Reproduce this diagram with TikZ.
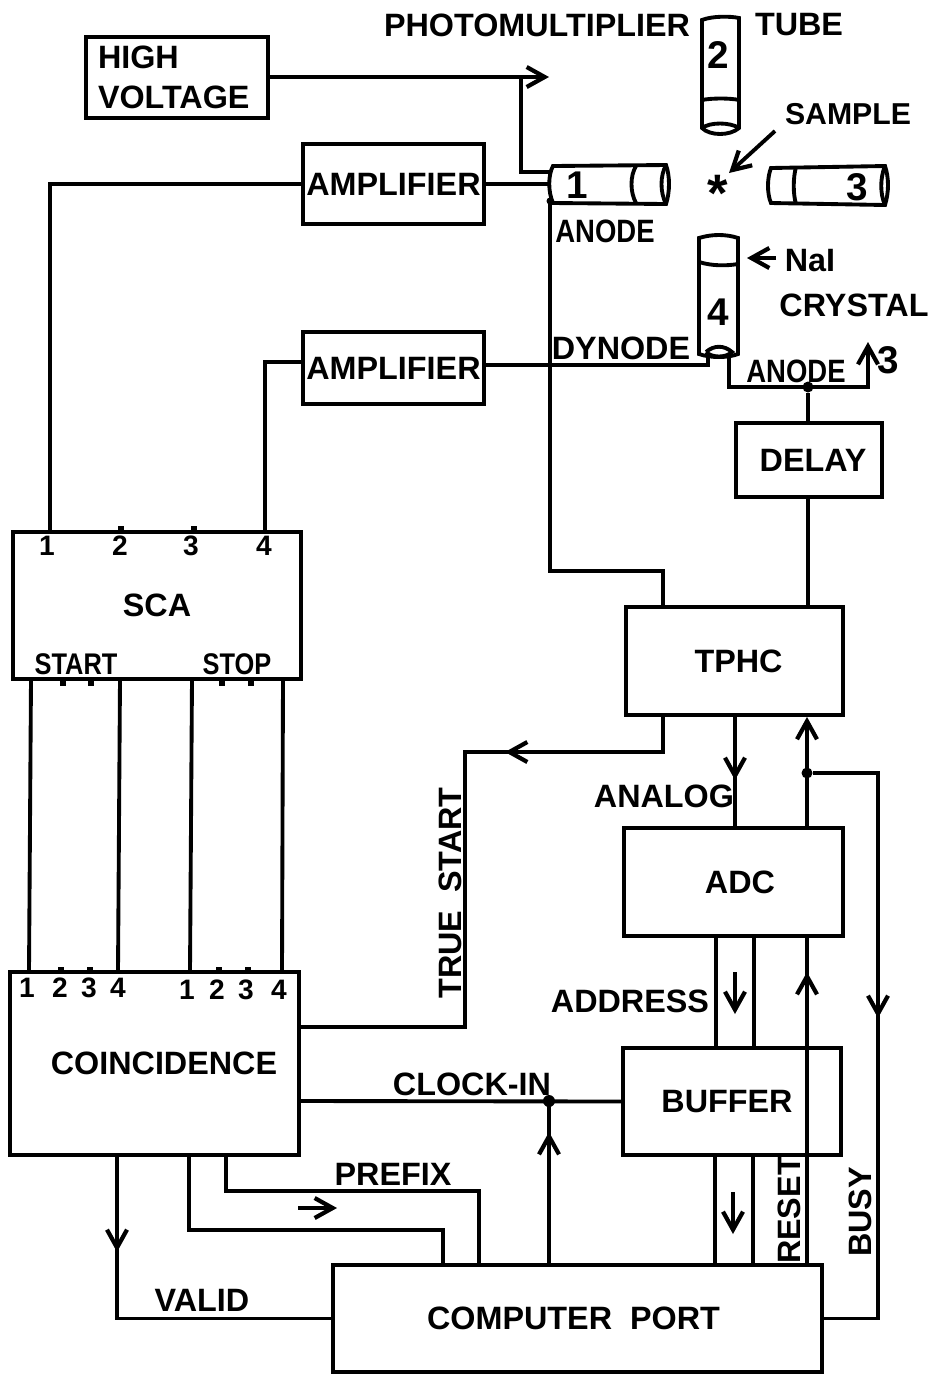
\documentclass[tikz,border=0pt]{standalone}
\usepackage{fontspec}
\usetikzlibrary{arrows.meta,calc,positioning}
\setmainfont{Liberation Sans}
\newfontfamily\narrowfont[BoldFeatures={FakeStretch=0.85}]{Liberation Sans}
\tikzset{
    cadtip/.tip={Straight Barb[length=0.36cm,width=0.4cm,line width=2.4pt]},
    wire/.style={line width=2.2pt},
    blockbox/.style={draw, line width=2.2pt, inner sep=0pt},
    lab/.style={inner sep=0pt, font=\bfseries\fontsize{18.4}{22.7}\selectfont},
    narrowlab/.style={inner sep=0pt, font=\narrowfont\bfseries\fontsize{18.4}{22.7}\selectfont},
    smalllab/.style={inner sep=0pt, font=\narrowfont\bfseries\fontsize{17}{20}\selectfont},
    tubelab/.style={inner sep=0pt, font=\bfseries\fontsize{22}{24}\selectfont},
    pinlab/.style={inner sep=0pt, font=\bfseries\fontsize{16}{20}\selectfont},
    junction/.style={circle, fill, inner sep=0pt, minimum size=0.22cm},
}
\begin{document}
\begin{tikzpicture}[x=0.02cm, y=-0.02cm]
    \useasboundingbox (0,0) rectangle (929,1374);

    % blocks
    \node[blockbox, lab, minimum width=3.64cm, minimum height=1.62cm, align=left, text width=3.16cm] (hv) at (177,77.5) {HIGH\\VOLTAGE};
    \node[blockbox, lab, minimum width=3.62cm, minimum height=1.60cm] (ampA) at (393.5,184) {AMPLIFIER};
    \node[blockbox, lab, minimum width=3.62cm, minimum height=1.44cm] (ampB) at (393.5,368) {AMPLIFIER};
    \node[blockbox, lab, minimum width=2.92cm, minimum height=1.48cm] (delay) at (809,460) {\kern0.16cm DELAY};
    \node[blockbox, lab, minimum width=5.76cm, minimum height=2.94cm] (sca) at (157,605.5) {SCA};
    \node[blockbox, lab, minimum width=5.78cm, minimum height=3.66cm] (coinc) at (154.5,1063.5) {\kern0.38cm COINCIDENCE};
    \node[blockbox, lab, minimum width=4.34cm, minimum height=2.16cm] (tphc) at (734.5,661) {\kern0.16cm TPHC};
    \node[blockbox, lab, minimum width=4.38cm, minimum height=2.16cm] (adc) at (733.5,882) {\kern0.26cm ADC};
    \node[blockbox, lab, minimum width=4.36cm, minimum height=2.14cm] (buffer) at (732,1101.5) {\kern-0.2cm BUFFER};
    \node[blockbox, lab, minimum width=9.78cm, minimum height=2.14cm] (port) at (577.5,1318.5) {COMPUTER\ \ PORT\kern0.16cm};

    % detector tubes
    \draw[wire] (553,166) .. controls (548,175) and (548,192) .. (553,203) -- (666,204) .. controls (670,192) and (670,176) .. (666,165) -- cycle;
    \draw[wire] (666,165) .. controls (660,176) and (660,192) .. (666,204);
    \draw[wire] (636,166) .. controls (630,176) and (630,192) .. (636,203);
    \draw[wire] (702,20) .. controls (712,16) and (730,16) .. (739,18) -- (739,128) .. controls (730,136) and (710,136) .. (702,128) -- cycle;
    \draw[wire] (702,128) .. controls (710,122) and (730,122) .. (739,128);
    \draw[wire] (702,100) .. controls (712,98) and (730,98) .. (739,100);
    \draw[wire] (771,168) .. controls (767,178) and (767,194) .. (771,203) -- (885,205) .. controls (889,192) and (889,178) .. (885,166) -- cycle;
    \draw[wire] (885,166) .. controls (880,178) and (880,194) .. (885,205);
    \draw[wire] (796,167) .. controls (793,178) and (793,194) .. (796,204);
    \draw[wire] (699,238) .. controls (712,234) and (726,234) .. (738,238) -- (738,354) .. controls (728,358) and (710,358) .. (699,354) -- cycle;
    \draw[wire] (699,262) .. controls (712,266) and (726,266) .. (738,264);
    \draw[wire] (706,352) .. controls (714,345) and (724,345) .. (732,352) .. controls (726,358) and (712,358) .. (706,352);
    \node[tubelab] (tubeOne) at (577,185) {1};
    \node[tubelab] (tubeTwo) at (718,55) {2};
    \node[tubelab] (tubeThree) at (857,187) {3};
    \node[tubelab] (tubeFour) at (718,312) {4};
    \node[lab, font=\bfseries\fontsize{30}{30}\selectfont] (star) at (718,193) {*};

    % free ends and pins
    \coordinate (hvTip) at (549,77);
    \coordinate (hvFork) at (521,77);
    \coordinate (tubeOneHv) at (550,172);
    \coordinate (tubeOneSig) at (550,184);
    \coordinate (tubeOneAnode) at (550,201);
    \coordinate (tubeFourDyn) at (708,354);
    \coordinate (tubeFourAnode) at (729,354);
    \coordinate (ampBIn) at (484,365);
    \coordinate (ampBOut) at (303,362);
    \coordinate (anodeFork) at (808,387);
    \coordinate (toThree) at (868,342);
    \coordinate (scaA) at (50,532);
    \coordinate (scaD) at (265,532);

    % high voltage and anode / dynode lines
    \draw[wire, -{cadtip}] (hv.east |- hvTip) -- (hvTip);
    \draw[wire] (hvFork) |- (tubeOneHv);
    \draw[wire] (ampA.east) -- (tubeOneSig);
    \draw[wire] (ampA.west) -| (scaA);
    \draw[wire] (ampBOut) -| (scaD);
    \draw[wire] (ampBIn) -| (tubeFourDyn);
    \draw[wire] (tubeOneAnode) |- (663,571) -- (663,607);
    \node[junction, minimum size=0.14cm] (anodeDot) at (tubeOneAnode) {};
    \draw[wire, -{cadtip}] (tubeFourAnode) |- (anodeFork) -| (toThree);
    \node[junction] (forkDot) at (anodeFork) {};
    \draw[wire] (forkDot) -- (delay.north -| forkDot);
    \draw[wire] (delay.south -| forkDot) -- (tphc.north -| forkDot);

    % small pins
    \foreach \x in {121,194} \draw[wire, line width=3pt] (\x,526) -- (\x,532);
    \foreach \x in {63,91,222,251} \draw[wire, line width=3pt] (\x,679) -- (\x,686);
    \foreach \x in {61,90,219,248} \draw[wire, line width=3pt] (\x,967) -- (\x,972);

    % SCA to coincidence
    \draw[wire] (31,679) -- (29,972);
    \draw[wire] (120,679) -- (118,972);
    \draw[wire] (192,679) -- (190,972);
    \draw[wire] (283,679) -- (282,972);

    % timing and conversion chain
    \coordinate (tsTop) at (663,715);
    \coordinate (tsCorner) at (465,752);
    \coordinate (tsTip) at (505,752);
    \draw[wire] (tsTop) |- (tsCorner) |- (coinc.east |- 0,1027);
    \draw[wire, -{cadtip}] (600,752) -- (tsTip);
    \coordinate (analogTip) at (735,780);
    \draw[wire, -{cadtip}] (tphc.south -| analogTip) -- (analogTip);
    \draw[wire] (tphc.south -| analogTip) -- (adc.north -| analogTip);
    \coordinate (busyFork) at (807,773);
    \draw[wire, -{cadtip}] (adc.north -| busyFork) -- (tphc.south -| busyFork);
    \node[junction] (busyDot) at (busyFork) {};
    \coordinate (busyTip) at (878,1018);
    \draw[wire] (busyDot) -| (port.east -| busyTip) -- (port.east);
    \draw[wire, -{cadtip}] (878,960) -- (busyTip);
    \coordinate (addrL) at (716,936);
    \coordinate (addrR) at (754,936);
    \draw[wire] (addrL) -- (addrL |- buffer.north);
    \draw[wire] (addrR) -- (addrR |- buffer.north);
    \draw[wire, -{cadtip}] (735,972) -- (735,1014);
    \coordinate (dataL) at (715,1155);
    \coordinate (dataR) at (753,1155);
    \draw[wire] (dataL) -- (dataL |- port.north);
    \draw[wire] (dataR) -- (dataR |- port.north);
    \draw[wire, -{cadtip}] (733,1192) -- (733,1234);
    \coordinate (resetTip) at (807,972);
    \draw[wire] (resetTip |- port.north) -- (resetTip |- adc.south);
    \draw[wire, -{cadtip}] (807,1040) -- (resetTip);

    % clock, prefix and valid
    \coordinate (clockFork) at (549,1101);
    \coordinate (clockTip) at (549,1132);
    \draw[wire] (coinc.east |- clockFork) -- (buffer.west);
    \draw[wire] (clockFork |- port.north) -- (clockFork);
    \draw[wire, -{cadtip}] (549,1200) -- (clockTip);
    \node[junction, minimum size=0.24cm] (clockDot) at (clockFork) {};
    \coordinate (prefixA) at (226,1155);
    \coordinate (prefixB) at (479,1191);
    \coordinate (prefixC) at (189,1155);
    \coordinate (prefixD) at (443,1230);
    \draw[wire] (prefixA) |- (prefixB) -- (prefixB |- port.north);
    \draw[wire] (prefixC) |- (prefixD) -- (prefixD |- port.north);
    \draw[wire, -{cadtip}] (298,1208) -- (337,1208);
    \coordinate (validTop) at (117,1155);
    \coordinate (validTip) at (117,1252);
    \draw[wire] (validTop) |- (port.west);
    \draw[wire, -{cadtip}] (117,1190) -- (validTip);

    % sample and crystal pointers
    \draw[wire, -{cadtip}] (775,131) -- (729,173);
    \draw[wire, -{cadtip}] (776,258) -- (747,258);

    % labels
    \node[lab] (title) at (537,25) {PHOTOMULTIPLIER};
    \node[lab] (titleb) at (799,25) {TUBE};
    \node[lab, font=\bfseries\fontsize{17.2}{20}\selectfont] (sample) at (848,114) {SAMPLE};
    \node[narrowlab] (anodeA) at (605,231) {ANODE};
    \node[lab] (nai) at (810,261) {NaI};
    \node[lab] (crystal) at (854,305) {CRYSTAL};
    \node[lab] (dynode) at (621,348) {DYNODE};
    \node[narrowlab] (anodeB) at (796,371) {ANODE};
    \node[tubelab] (three) at (888,360) {3};
    \node[smalllab] (start) at (76,664) {START};
    \node[smalllab] (stop) at (237,664) {STOP};
    \node[lab, rotate=90] (truestart) at (450,893) {TRUE\ \ START};
    \node[lab] (analog) at (664,796) {ANALOG};
    \node[lab] (address) at (630,1001) {ADDRESS};
    \node[lab] (clockin) at (472,1084) {CLOCK-IN};
    \node[lab] (prefix) at (393,1174) {PREFIX};
    \node[lab] (valid) at (202,1300) {VALID};
    \node[lab, rotate=90] (reset) at (789,1210) {RESET};
    \node[lab, rotate=90] (busy) at (860,1212) {BUSY};

    % pin numbers
    \node[pinlab] (scaOne) at (47,546) {1};
    \node[pinlab] (scaTwo) at (120,546) {2};
    \node[pinlab] (scaThree) at (191,546) {3};
    \node[pinlab] (scaFour) at (264,546) {4};
    \node[pinlab] (coA) at (27,988) {1};
    \node[pinlab] (coB) at (60,988) {2};
    \node[pinlab] (coC) at (89,988) {3};
    \node[pinlab] (coD) at (118,988) {4};
    \node[pinlab] (coE) at (187,990) {1};
    \node[pinlab] (coF) at (217,990) {2};
    \node[pinlab] (coG) at (246,990) {3};
    \node[pinlab] (coH) at (279,990) {4};
\end{tikzpicture}
\end{document}
